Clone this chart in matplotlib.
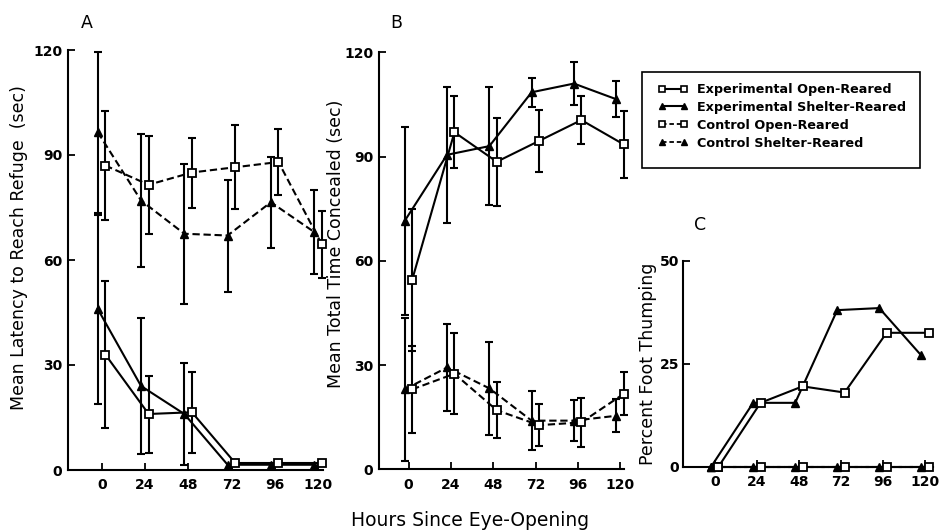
import matplotlib
matplotlib.use("Agg")
import matplotlib.pyplot as plt
from matplotlib.lines import Line2D
from matplotlib.patches import Rectangle
import numpy as np

plt.rcParams['font.family'] = ['DejaVu Sans']

hours = [0, 24, 48, 72, 96, 120]
tick_labels = ["0", "24", "48", "72", "96", "120"]

# Panel A: Mean latency to reach refuge (sec)
exp_open_A = [33, 16, 16.5, 2, 2, 2]
exp_open_A_err = [21, 11, 11.5, 0, 0, 0]
exp_shelter_A = [46, 24, 16, 1.5, 1.5, 1.5]
exp_shelter_A_err = [27, 19.5, 14.5, 0, 0, 0]
ctrl_open_A = [87, 81.5, 85, 86.5, 88, 64.5]
ctrl_open_A_err = [15.7, 14, 10, 12, 9.5, 9.5]
ctrl_shelter_A = [96.5, 77, 67.5, 67, 76.5, 68]
ctrl_shelter_A_err = [23, 19, 20, 16, 13, 12]

# Panel B: Mean total time concealed (sec)
exp_open_B = [54.5, 97, 88.5, 94.5, 100.5, 93.5]
exp_open_B_err = [20.5, 10.3, 12.6, 9, 6.8, 9.7]
exp_shelter_B = [71.5, 90.5, 93, 108.5, 111, 106.5]
exp_shelter_B_err = [27, 19.6, 17, 4.2, 6.2, 5.2]
ctrl_open_B = [23, 27.5, 17, 12.7, 13.5, 21.7]
ctrl_open_B_err = [12.6, 11.7, 8, 6, 7, 6.2]
ctrl_shelter_B = [23, 29.3, 23.3, 14, 14, 15.4]
ctrl_shelter_B_err = [20.5, 12.6, 13.3, 8.4, 5.8, 4.8]

# Panel C: Percent foot thumping
exp_open_C = [0, 15.5, 19.5, 18, 32.5, 32.5]
exp_shelter_C = [0, 15.5, 15.5, 38, 38.5, 27]
ctrl_open_C = [0, 0, 0, 0, 0, 0]
ctrl_shelter_C = [0, 0, 0, 0, 0, 0]

legend_labels = ["Experimental Open-Reared", "Experimental Shelter-Reared",
                 "Control Open-Reared", "Control Shelter-Reared"]

W, H = 941, 532
fig = plt.figure(figsize=(W / 100, H / 100), dpi=100)

def px_axes(x0, y0, x1, y1):
    return fig.add_axes([x0 / W, 1 - y1 / H, (x1 - x0) / W, (y1 - y0) / H])

axA = px_axes(68, 50, 323, 470)
axB = px_axes(379, 52.3, 624, 469.3)
axC = px_axes(683.3, 260.7, 933, 466.7)

TRI_OFF = -2.2
SQ_OFF = 2.0
LW = 1.5
DASH = (0, (3.5, 1.8))
MS = 5.5

def series(ax, y, err, marker, ls, off):
    x = np.array(hours) + off
    y = np.array(y, dtype=float)
    if err is not None:
        e = np.array(err, dtype=float)
        m = e > 0
        ax.errorbar(x[m], y[m], yerr=e[m], fmt='none', ecolor='black',
                    elinewidth=1.5, capsize=3.2, capthick=1.5, zorder=2,
                    clip_on=False)
    if marker == 's':
        ax.plot(x, y, color='black', lw=LW, ls=ls, marker='s', ms=MS,
                mfc='white', mec='black', mew=1.3, zorder=4, clip_on=False)
    else:
        ax.plot(x, y, color='black', lw=LW, ls=ls, marker='^', ms=MS,
                mfc='black', mec='black', zorder=3, clip_on=False)

series(axA, ctrl_shelter_A, ctrl_shelter_A_err, '^', DASH, TRI_OFF)
series(axA, ctrl_open_A, ctrl_open_A_err, 's', DASH, SQ_OFF)
series(axA, exp_shelter_A, exp_shelter_A_err, '^', '-', TRI_OFF)
series(axA, exp_open_A, exp_open_A_err, 's', '-', SQ_OFF)

series(axB, exp_shelter_B, exp_shelter_B_err, '^', '-', TRI_OFF)
series(axB, exp_open_B, exp_open_B_err, 's', '-', SQ_OFF)
series(axB, ctrl_shelter_B, ctrl_shelter_B_err, '^', DASH, TRI_OFF)
series(axB, ctrl_open_B, ctrl_open_B_err, 's', DASH, SQ_OFF)

series(axC, ctrl_shelter_C, None, '^', DASH, TRI_OFF)
series(axC, ctrl_open_C, None, 's', DASH, SQ_OFF)
series(axC, exp_shelter_C, None, '^', '-', TRI_OFF)
series(axC, exp_open_C, None, 's', '-', SQ_OFF)

for ax, xlim in ((axA, (-18.7, 122.7)), (axB, (-16.8, 122.2)), (axC, (-18.1, 124.5))):
    ax.set_xlim(*xlim)
    ax.set_xticks(hours)
    ax.set_xticklabels(tick_labels)
    for s in ('top', 'right'):
        ax.spines[s].set_visible(False)
    for s in ('left', 'bottom'):
        ax.spines[s].set_linewidth(1.5)
    ax.tick_params(direction='in', length=5, width=1.3, labelsize=10, pad=6)

axA.set_ylim(0, 120)
axA.set_yticks([0, 30, 60, 90, 120])
axB.set_ylim(0, 120)
axB.set_yticks([0, 30, 60, 90, 120])
axC.set_ylim(0, 50)
axC.set_yticks([0, 25, 50])
for ax in (axA, axB, axC):
    for lab in ax.get_xticklabels() + ax.get_yticklabels():
        lab.set_fontweight('bold')
axA.tick_params(axis='y', pad=4)
axB.tick_params(axis='y', pad=4)
axC.tick_params(axis='y', pad=3)

axA.set_ylabel("Mean Latency to Reach Refuge  (sec)", fontsize=12.5)
axA.yaxis.set_label_coords(-0.157, 0.53)
axB.set_ylabel("Mean Total Time Concealed (sec)", fontsize=12.5)
axB.yaxis.set_label_coords(-0.139, 0.54)
axC.set_ylabel("Percent Foot Thumping", fontsize=12.5)
axC.yaxis.set_label_coords(-0.105, 0.50)

fig.text(87 / W, 1 - 23 / H, "A", fontsize=12.5, ha='center', va='center')
fig.text(396.7 / W, 1 - 23 / H, "B", fontsize=12.5, ha='center', va='center')
fig.text(700 / W, 1 - 225 / H, "C", fontsize=12.5, ha='center', va='center')
fig.text(470 / W, 1 - 520 / H, "Hours Since Eye-Opening", fontsize=13.5,
         ha='center', va='center')

handles = [
    Line2D([], [], color='black', lw=1.5, ls='-', marker='s', ms=4.5, mfc='white', mec='black', mew=1.2),
    Line2D([], [], color='black', lw=1.5, ls='-', marker='^', ms=4.5, mfc='black', mec='black'),
    Line2D([], [], color='black', lw=1.3, ls=(0, (2.5, 1.6)), marker='s', ms=4.5, mfc='white', mec='black', mew=1.2),
    Line2D([], [], color='black', lw=1.3, ls=(0, (2.5, 1.6)), marker='^', ms=4.5, mfc='black', mec='black'),
]
leg = fig.legend(handles, legend_labels, loc='upper left',
                 bbox_to_anchor=(658 / W, 1 - 83 / H), borderaxespad=0,
                 numpoints=2, handlelength=2.35, handletextpad=0.7,
                 labelspacing=0.38, borderpad=0.0, frameon=False,
                 prop={'size': 9.2, 'weight': 'bold'})
fig.patches.append(Rectangle((641.7 / W, 1 - 168.3 / H), (920 - 641.7) / W,
                             (168.3 - 71.7) / H, transform=fig.transFigure,
                             fill=False, edgecolor='black', lw=1.2))

fig.savefig("out.png", dpi=100)
